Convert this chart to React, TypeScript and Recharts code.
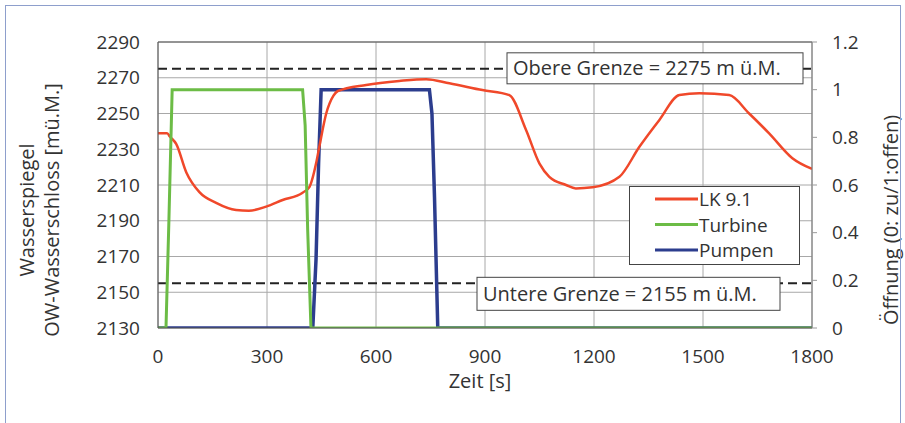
import React from 'react';
import { ComposedChart, Line, XAxis, YAxis, CartesianGrid, ReferenceLine } from 'recharts';

// Surge tank water level (LK 9.1) and gate openings over time
const lkTime = [0, 25, 33, 50, 78, 114, 160, 215, 250, 298, 343, 398, 417, 435, 444, 463, 483, 495, 573, 664, 738, 802, 893, 967, 1013, 1050, 1077, 1123, 1150, 1196, 1270, 1325, 1380, 1435, 1490, 1572, 1627, 1682, 1746, 1800];
const lkLevel = [2239, 2239, 2237, 2233, 2217, 2206, 2200, 2196, 2195.6, 2197.9, 2201.6, 2205.7, 2209, 2222, 2231.4, 2250, 2260, 2262.6, 2266, 2268.2, 2269.2, 2266.9, 2263.1, 2260.3, 2240.8, 2222, 2214.6, 2210, 2208.1, 2208.7, 2214.6, 2231.4, 2246.4, 2260.3, 2261.3, 2260.3, 2250, 2238.9, 2225, 2219];

const turbineTime = [0, 22, 30, 39, 398, 405, 412, 421, 1800];
const turbineOpen = [0, 0, 0.45, 1, 1, 0.85, 0.41, 0, 0];

const pumpenTime = [0, 426, 435, 442, 449, 747, 754, 761, 770, 1800];
const pumpenOpen = [0, 0, 0.29, 0.69, 1, 1, 0.9, 0.55, 0, 0];

const timeTicks = [0, 300, 600, 900, 1200, 1500, 1800];
const levelTicks = [2130, 2150, 2170, 2190, 2210, 2230, 2250, 2270, 2290];
const openTicks = [0, 0.2, 0.4, 0.6, 0.8, 1, 1.2];

const upperLimit = 2275;
const lowerLimit = 2155;
const upperText = 'Obere Grenze = 2275 m ü.M.';
const lowerText = 'Untere Grenze = 2155 m ü.M.';

const seriesNames = ['LK 9.1', 'Turbine', 'Pumpen'];
const seriesColors = ['#f0482a', '#6cbc46', '#2c3d8e'];

const zip = (ts: number[], vs: number[]) => ts.map((t, i) => ({ t, v: vs[i] }));
const lkData = zip(lkTime, lkLevel);
const turbineData = zip(turbineTime, turbineOpen);
const pumpenData = zip(pumpenTime, pumpenOpen);

const FONT = "'Open Sans', sans-serif";
const TEXT = '#333';

function LimitBox(props: any) {
  const { viewBox, text, rightInset, boxWidth, above, boxHeight } = props;
  if (!viewBox) return null;
  const right = viewBox.x + viewBox.width - rightInset;
  const left = right - boxWidth;
  const top = viewBox.y - above;
  return (
    <g>
      <rect x={left} y={top} width={boxWidth} height={boxHeight} fill="#fff" stroke="#444" strokeWidth={1} />
      <text x={left + 6} y={top + boxHeight / 2 + 7} fontSize={20} fontFamily={FONT} fill={TEXT}>
        {text}
      </text>
    </g>
  );
}

function LeftTitle(props: any) {
  const { viewBox } = props;
  if (!viewBox) return null;
  const cy = 210;
  const x1 = viewBox.x - 72;
  const x2 = viewBox.x - 47;
  return (
    <g fontSize={20} fontFamily={FONT} fill={TEXT}>
      <text x={x1} y={cy} textAnchor="middle" dominantBaseline="central" transform={`rotate(-90 ${x1} ${cy})`}>
        Wasserspiegel
      </text>
      <text x={x2} y={cy} textAnchor="middle" dominantBaseline="central" transform={`rotate(-90 ${x2} ${cy})`}>
        OW-Wasserschloss [mü.M.]
      </text>
    </g>
  );
}

function RightTitle(props: any) {
  const { viewBox } = props;
  if (!viewBox) return null;
  const cy = 220;
  const x = viewBox.x + 78;
  return (
    <text x={x} y={cy} textAnchor="middle" dominantBaseline="central" fontSize={20} fontFamily={FONT} fill={TEXT}
      transform={`rotate(-90 ${x} ${cy})`}>
      Öffnung (0: zu/1:offen)
    </text>
  );
}

function BottomTitle(props: any) {
  const { viewBox } = props;
  if (!viewBox) return null;
  return (
    <text x={480} y={388} textAnchor="middle" fontSize={20} fontFamily={FONT} fill={TEXT}>
      Zeit [s]
    </text>
  );
}

function LegendBox() {
  return (
    <div style={{ position: 'absolute', left: 629, top: 186, width: 171, height: 79, boxSizing: 'border-box',
      border: '1px solid #444', background: '#fff' }}>
      <svg width={169} height={77} style={{ display: 'block' }}>
        {seriesNames.map((name, i) => {
          const cy = 12 + i * 25.5;
          return (
            <g key={name}>
              <line x1={25} x2={68} y1={cy} y2={cy} stroke={seriesColors[i]} strokeWidth={3} />
              <text x={69} y={cy + 7} fontSize={19} fontFamily={FONT} fill={TEXT}>{name}</text>
            </g>
          );
        })}
      </svg>
    </div>
  );
}

export default function App() {
  return (
    <div style={{ position: 'absolute', left: 0, top: 0, width: 905, height: 423, background: '#fff', overflow: 'hidden', fontFamily: FONT }}>
      <ComposedChart width={905} height={423} margin={{ top: 42, right: 33, bottom: 65, left: 98 }}>
        <CartesianGrid yAxisId="level" stroke="#a8a8a8" strokeWidth={1} horizontalValues={levelTicks} verticalValues={timeTicks} />
        <XAxis dataKey="t" type="number" domain={[0, 1800]} ticks={timeTicks} allowDataOverflow height={30}
          tickLine={false} tickSize={0} tickMargin={22} axisLine={{ stroke: '#555' }}
          tick={{ fontSize: 19, fill: TEXT, fontFamily: FONT }} label={<BottomTitle />} />
        <YAxis yAxisId="level" orientation="left" domain={[2130, 2290]} ticks={levelTicks} allowDataOverflow width={60}
          tickLine={false} tickSize={4} tickMargin={14} axisLine={{ stroke: '#555' }}
          tick={{ fontSize: 19, fill: TEXT, fontFamily: FONT }} label={<LeftTitle />} />
        <YAxis yAxisId="open" orientation="right" domain={[0, 1.2]} ticks={openTicks} allowDataOverflow width={60}
          tickLine={{ stroke: '#999' }} tickSize={5} tickMargin={15} axisLine={{ stroke: '#777' }}
          tick={{ fontSize: 19, fill: TEXT, fontFamily: FONT }} label={<RightTitle />} />
        <ReferenceLine yAxisId="level" y={2290} stroke="#555" strokeWidth={1} />
        <ReferenceLine yAxisId="level" y={upperLimit} stroke="#222" strokeWidth={2} strokeDasharray="9 5"
          label={<LimitBox text={upperText} rightInset={9} boxWidth={296} above={16} boxHeight={31} />} />
        <ReferenceLine yAxisId="level" y={lowerLimit} stroke="#222" strokeWidth={2} strokeDasharray="9 5"
          label={<LimitBox text={lowerText} rightInset={32} boxWidth={303} above={6} boxHeight={33} />} />
        <Line data={pumpenData} dataKey="v" yAxisId="open" type="linear" stroke={seriesColors[2]} strokeWidth={3.5}
          dot={false} activeDot={false} isAnimationActive={false} name={seriesNames[2]} />
        <Line data={lkData} dataKey="v" yAxisId="level" type="monotone" stroke={seriesColors[0]} strokeWidth={2.5}
          dot={false} activeDot={false} isAnimationActive={false} name={seriesNames[0]} />
        <Line data={turbineData} dataKey="v" yAxisId="open" type="linear" stroke={seriesColors[1]} strokeWidth={3}
          dot={false} activeDot={false} isAnimationActive={false} name={seriesNames[1]} />
      </ComposedChart>
      <LegendBox />
      <div style={{ position: 'absolute', left: 5, top: 5, width: 896, height: 440, boxSizing: 'border-box',
        border: '1.5px solid #8e9fcc', pointerEvents: 'none' }} />
    </div>
  );
}
